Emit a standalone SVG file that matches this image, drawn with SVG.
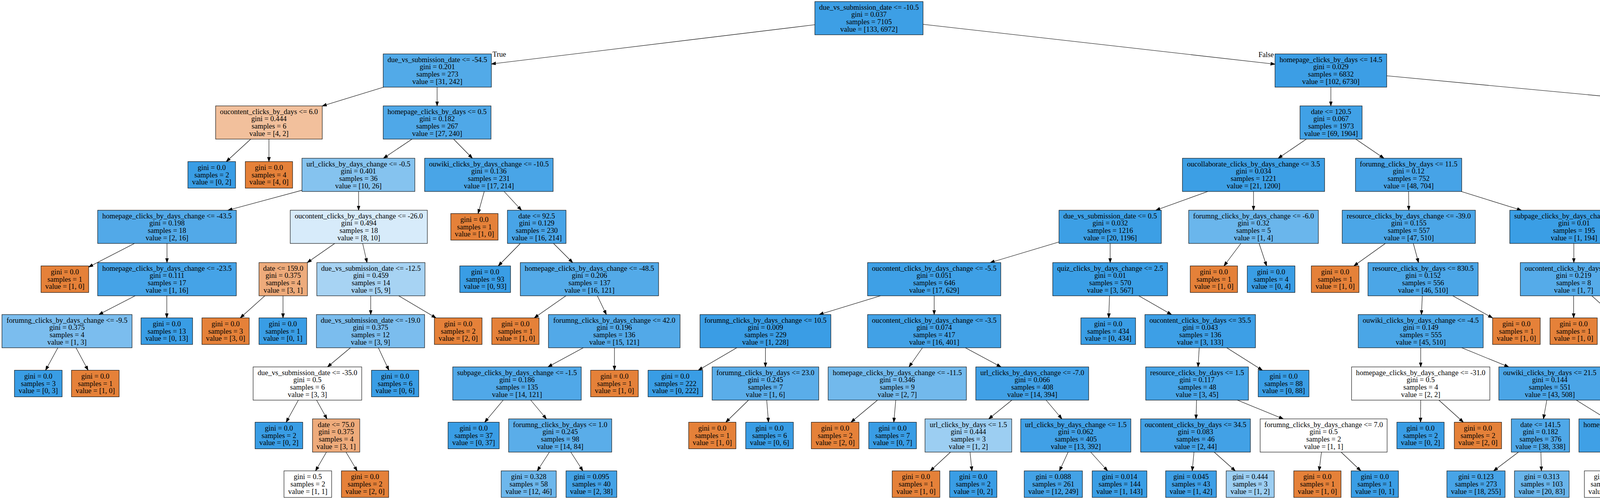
<svg xmlns="http://www.w3.org/2000/svg" width="7420" height="1277" viewBox="0 0 7420 1277">
<style>
.n rect{stroke:#000;stroke-width:1.1}
.b{fill:#399de5}.o{fill:#e58139}.w{fill:#ffffff}
text{font-family:"Liberation Serif","Times New Roman",Times,serif;font-size:18.6px;text-anchor:middle;fill:#000}
#edges line{stroke:#000;stroke-width:1.1;fill:none;marker-end:url(#arr)}
#edges text.l{text-anchor:start}
#edges text.r{text-anchor:end}
</style>
<defs>
<marker id="arr" markerUnits="userSpaceOnUse" markerWidth="14" markerHeight="10" refX="11.3" refY="4" orient="auto"><path d="M0,0 L11.3,4 L0,8 z" fill="#000" stroke="#000" stroke-width="1"/></marker>
</defs>
<rect width="7420" height="1277" fill="#ffffff"/>
<g id="edges">
<line x1="2086" y1="63.3" x2="1258" y2="163.7"/>
<line x1="2363" y1="62.2" x2="3264" y2="164.3"/>
<line x1="982.3" y1="223" x2="825" y2="271.2"/>
<line x1="1119" y1="223" x2="1119" y2="271"/>
<line x1="3407" y1="223" x2="3407" y2="271"/>
<line x1="3550" y1="194" x2="4656" y2="298"/>
<line x1="641.9" y1="356" x2="579.3" y2="413.5"/>
<line x1="688.5" y1="356" x2="688.5" y2="413.5"/>
<line x1="1054.8" y1="356" x2="981.7" y2="405"/>
<line x1="1161.2" y1="356" x2="1209.3" y2="405"/>
<line x1="3344.3" y1="356" x2="3272.2" y2="405"/>
<line x1="3470.7" y1="356" x2="3542.8" y2="405"/>
<line x1="4820.5" y1="356" x2="4820.5" y2="405"/>
<line x1="4985" y1="337.9" x2="5583" y2="427"/>
<line x1="773" y1="486.9" x2="583.5" y2="538"/>
<line x1="918" y1="490" x2="918" y2="538"/>
<line x1="1239.7" y1="490" x2="1223.9" y2="546.5"/>
<line x1="1290.5" y1="490" x2="1335" y2="538"/>
<line x1="3092.1" y1="490" x2="2958.9" y2="538"/>
<line x1="3209" y1="490" x2="3209" y2="538"/>
<line x1="3606" y1="490" x2="3606.5" y2="538"/>
<line x1="3740.8" y1="490" x2="3894.7" y2="538"/>
<line x1="4797.3" y1="490" x2="4766.1" y2="546.5"/>
<line x1="4843.7" y1="490" x2="4874.9" y2="546.5"/>
<line x1="5721" y1="490" x2="5721" y2="538"/>
<line x1="5859" y1="488.9" x2="6050" y2="545.8"/>
<line x1="344.2" y1="623" x2="227" y2="683.4"/>
<line x1="427.5" y1="623" x2="427.5" y2="672"/>
<line x1="856.9" y1="623" x2="786.6" y2="672"/>
<line x1="928.4" y1="623" x2="939.6" y2="672"/>
<line x1="1332" y1="623" x2="1275.6" y2="680.5"/>
<line x1="1417" y1="623" x2="1466" y2="672"/>
<line x1="2711" y1="619.3" x2="2534.9" y2="672"/>
<line x1="2842" y1="623" x2="2842" y2="672"/>
<line x1="3176.7" y1="623" x2="3133.4" y2="680.5"/>
<line x1="3223.3" y1="623" x2="3242.5" y2="680.5"/>
<line x1="3546.5" y1="623" x2="3466" y2="680.5"/>
<line x1="3618.1" y1="623" x2="3631.4" y2="672"/>
<line x1="4029" y1="623" x2="4029" y2="672"/>
<line x1="4102.7" y1="623" x2="4200.9" y2="680.5"/>
<line x1="5665.4" y1="623" x2="5602.6" y2="672"/>
<line x1="5787" y1="623" x2="5863" y2="672"/>
<line x1="6166" y1="623" x2="6166" y2="680.5"/>
<line x1="6212.3" y1="623" x2="6275.1" y2="680.5"/>
<line x1="346" y1="757" x2="253" y2="805"/>
<line x1="427" y1="757" x2="427" y2="813.5"/>
<line x1="678" y1="757" x2="615.1" y2="813.5"/>
<line x1="724.5" y1="757" x2="724.5" y2="813.5"/>
<line x1="949" y1="757" x2="949" y2="805"/>
<line x1="1020.7" y1="757" x2="1116.1" y2="813.5"/>
<line x1="1448.7" y1="757" x2="1367.8" y2="813.5"/>
<line x1="1529.2" y1="757" x2="1552.3" y2="805"/>
<line x1="2254" y1="757" x2="2097" y2="805"/>
<line x1="2391.5" y1="757" x2="2391.5" y2="805"/>
<line x1="2840.4" y1="757" x2="2838.3" y2="813.5"/>
<line x1="2915.4" y1="757" x2="2999.1" y2="805"/>
<line x1="3641.1" y1="757" x2="3638.9" y2="805"/>
<line x1="3719.1" y1="757" x2="3820.9" y2="813.5"/>
<line x1="4028.5" y1="757" x2="4028.5" y2="813.5"/>
<line x1="4075.1" y1="757" x2="4137.7" y2="813.5"/>
<line x1="5405" y1="755.4" x2="5217" y2="808.8"/>
<line x1="5547" y1="757" x2="5547" y2="805"/>
<line x1="5950.4" y1="757" x2="5974.1" y2="805"/>
<line x1="6081" y1="754.5" x2="6274.4" y2="805"/>
<line x1="148.1" y1="890" x2="116.7" y2="947.5"/>
<line x1="194.6" y1="890" x2="225.5" y2="947.5"/>
<line x1="897.1" y1="890" x2="838.4" y2="939"/>
<line x1="968.6" y1="890" x2="995.5" y2="947.5"/>
<line x1="1493.2" y1="890" x2="1402.8" y2="939"/>
<line x1="1573" y1="890" x2="1573" y2="947.5"/>
<line x1="1886.1" y1="890" x2="1787.7" y2="947.5"/>
<line x1="1959.5" y1="890" x2="1959.5" y2="939"/>
<line x1="2361.4" y1="890" x2="2327.1" y2="939"/>
<line x1="2471.4" y1="890" x2="2562.6" y2="939"/>
<line x1="3070" y1="890" x2="3067" y2="939"/>
<line x1="3140.5" y1="890" x2="3231.6" y2="947.5"/>
<line x1="3637" y1="890" x2="3637" y2="939"/>
<line x1="3742.2" y1="890" x2="3862.3" y2="939"/>
<line x1="4975.8" y1="890" x2="4854.7" y2="939"/>
<line x1="5082" y1="890" x2="5082" y2="939"/>
<line x1="5500.5" y1="890" x2="5447.5" y2="939"/>
<line x1="5605.4" y1="890" x2="5672.1" y2="939"/>
<line x1="5995" y1="890" x2="5995.5" y2="947.5"/>
<line x1="6043.2" y1="890" x2="6107.9" y2="947.5"/>
<line x1="6435.5" y1="890" x2="6435.5" y2="939"/>
<line x1="6575" y1="890" x2="6734" y2="939"/>
<line x1="763.8" y1="1024" x2="732.6" y2="1080.5"/>
<line x1="810.4" y1="1024" x2="837.1" y2="1072"/>
<line x1="1288.2" y1="1024" x2="1240.8" y2="1080.5"/>
<line x1="1358.7" y1="1024" x2="1398.8" y2="1072"/>
<line x1="1916.2" y1="1024" x2="1858.1" y2="1080.5"/>
<line x1="1962.8" y1="1024" x2="1967.3" y2="1080.5"/>
<line x1="2246.4" y1="1024" x2="2178.5" y2="1080.5"/>
<line x1="2293.2" y1="1024" x2="2288.1" y2="1080.5"/>
<line x1="2590.4" y1="1024" x2="2531.1" y2="1072"/>
<line x1="2678" y1="1024" x2="2718.5" y2="1072"/>
<line x1="3063.2" y1="1024" x2="3061.8" y2="1072"/>
<line x1="3167.7" y1="1024" x2="3285.3" y2="1072"/>
<line x1="3637" y1="1024" x2="3636.5" y2="1080.5"/>
<line x1="3683.6" y1="1024" x2="3746.2" y2="1080.5"/>
<line x1="3959.9" y1="1024" x2="3951.1" y2="1072"/>
<line x1="4035.3" y1="1024" x2="4112.7" y2="1072"/>
<line x1="4664.1" y1="1024" x2="4567.9" y2="1072"/>
<line x1="4758.7" y1="1024" x2="4770.3" y2="1072"/>
<line x1="5055.4" y1="1024" x2="5019.8" y2="1080.5"/>
<line x1="5102.1" y1="1024" x2="5129" y2="1080.5"/>
<line x1="5366" y1="1024" x2="5319" y2="1080.5"/>
<line x1="5412.8" y1="1024" x2="5428.6" y2="1080.5"/>
<line x1="5720.2" y1="1024" x2="5708.3" y2="1072"/>
<line x1="5828.4" y1="1024" x2="5940.1" y2="1072"/>
<line x1="6382.3" y1="1024" x2="6311" y2="1080.5"/>
<line x1="6463.7" y1="1024" x2="6495.8" y2="1072"/>
<line x1="6873.5" y1="1024" x2="6873.5" y2="1072"/>
<line x1="6989.6" y1="1024" x2="7121.9" y2="1072"/>
<line x1="835.7" y1="1157" x2="807.8" y2="1205"/>
<line x1="885.8" y1="1157" x2="914.3" y2="1205"/>
<line x1="1406.5" y1="1157" x2="1375.5" y2="1205"/>
<line x1="1461.3" y1="1157" x2="1492.2" y2="1205"/>
<line x1="2433.3" y1="1157" x2="2381.6" y2="1205"/>
<line x1="2483.3" y1="1157" x2="2488.1" y2="1205"/>
<line x1="2734.4" y1="1157" x2="2712.2" y2="1205"/>
<line x1="2792.2" y1="1157" x2="2835.4" y2="1205"/>
<line x1="3056.6" y1="1157" x2="3052.1" y2="1205"/>
<line x1="3108.3" y1="1157" x2="3162.3" y2="1205"/>
<line x1="3383" y1="1157" x2="3376.9" y2="1205"/>
<line x1="3433.2" y1="1157" x2="3483.7" y2="1205"/>
<line x1="3887.2" y1="1157" x2="3823.6" y2="1205"/>
<line x1="3944.7" y1="1157" x2="3946" y2="1205"/>
<line x1="4158.7" y1="1157" x2="4134" y2="1205"/>
<line x1="4211.9" y1="1157" x2="4247.4" y2="1205"/>
<line x1="4475.3" y1="1157" x2="4466.1" y2="1205"/>
<line x1="4526.7" y1="1157" x2="4575.5" y2="1205"/>
<line x1="4779.3" y1="1157" x2="4778" y2="1205"/>
<line x1="4837" y1="1157" x2="4900.8" y2="1205"/>
<line x1="5650.5" y1="1157" x2="5597" y2="1205"/>
<line x1="5701.9" y1="1157" x2="5706.4" y2="1205"/>
<line x1="6009.8" y1="1157" x2="5978" y2="1205"/>
<line x1="6066.2" y1="1157" x2="6098" y2="1205"/>
<line x1="6482" y1="1157" x2="6434.6" y2="1205"/>
<line x1="6532" y1="1157" x2="6541.1" y2="1205"/>
<line x1="6849.1" y1="1157" x2="6821.5" y2="1205"/>
<line x1="6906.8" y1="1157" x2="6944.4" y2="1205"/>
<line x1="7209.2" y1="1157" x2="7176.6" y2="1205"/>
<line x1="7262.1" y1="1157" x2="7289.2" y2="1205"/>
<text class="l" x="1261" y="145">True</text>
<text class="r" x="3261" y="146">False</text>
</g>
<g id="n0" class="n"><rect x="2086" y="4" width="277" height="85" fill="#3d9fe5"/><text x="2224.5" y="24.5">due_vs_submission_date &lt;= -10.5<tspan x="2224.5" dy="18.8">gini = 0.037</tspan><tspan x="2224.5" dy="18.8">samples = 7105</tspan><tspan x="2224.5" dy="18.8">value = [133, 6972]</tspan></text></g>
<g id="n1" class="n"><rect x="981" y="138" width="277" height="85" fill="#52aae8"/><text x="1119.5" y="158.5">due_vs_submission_date &lt;= -54.5<tspan x="1119.5" dy="18.8">gini = 0.201</tspan><tspan x="1119.5" dy="18.8">samples = 273</tspan><tspan x="1119.5" dy="18.8">value = [31, 242]</tspan></text></g>
<g id="n2" class="n"><rect x="3264" y="138" width="286" height="85" fill="#3c9ee5"/><text x="3407" y="158.5">homepage_clicks_by_days &lt;= 14.5<tspan x="3407" dy="18.8">gini = 0.029</tspan><tspan x="3407" dy="18.8">samples = 6832</tspan><tspan x="3407" dy="18.8">value = [102, 6730]</tspan></text></g>
<g id="n3" class="n"><rect x="552" y="271" width="273" height="85" fill="#f2c09c"/><text x="688.5" y="291.5">oucontent_clicks_by_days &lt;= 6.0<tspan x="688.5" dy="18.8">gini = 0.444</tspan><tspan x="688.5" dy="18.8">samples = 6</tspan><tspan x="688.5" dy="18.8">value = [4, 2]</tspan></text></g>
<g id="n4" class="n"><rect x="981" y="271" width="276" height="85" fill="#4fa8e8"/><text x="1119" y="291.5">homepage_clicks_by_days &lt;= 0.5<tspan x="1119" dy="18.8">gini = 0.182</tspan><tspan x="1119" dy="18.8">samples = 267</tspan><tspan x="1119" dy="18.8">value = [27, 240]</tspan></text></g>
<g id="n5" class="n"><rect x="3328" y="271" width="159" height="85" fill="#40a1e6"/><text x="3407.5" y="291.5">date &lt;= 120.5<tspan x="3407.5" dy="18.8">gini = 0.067</tspan><tspan x="3407.5" dy="18.8">samples = 1973</tspan><tspan x="3407.5" dy="18.8">value = [69, 1904]</tspan></text></g>
<g id="n6" class="n"><rect x="4656" y="271" width="329" height="85" fill="#3a9ee5"/><text x="4820.5" y="291.5">ouwiki_clicks_by_days_change &lt;= -13.5<tspan x="4820.5" dy="18.8">gini = 0.013</tspan><tspan x="4820.5" dy="18.8">samples = 4859</tspan><tspan x="4820.5" dy="18.8">value = [33, 4826]</tspan></text></g>
<g id="n7" class="n"><rect x="481" y="413.5" width="122" height="68" class="b"/><text x="542" y="434.7">gini = 0.0<tspan x="542" dy="18.8">samples = 2</tspan><tspan x="542" dy="18.8">value = [0, 2]</tspan></text></g>
<g id="n8" class="n"><rect x="628" y="413.5" width="121" height="68" class="o"/><text x="688.5" y="434.7">gini = 0.0<tspan x="688.5" dy="18.8">samples = 4</tspan><tspan x="688.5" dy="18.8">value = [4, 0]</tspan></text></g>
<g id="n9" class="n"><rect x="773" y="405" width="289" height="85" fill="#85c3ef"/><text x="917.5" y="425.5">url_clicks_by_days_change &lt;= -0.5<tspan x="917.5" dy="18.8">gini = 0.401</tspan><tspan x="917.5" dy="18.8">samples = 36</tspan><tspan x="917.5" dy="18.8">value = [10, 26]</tspan></text></g>
<g id="n10" class="n"><rect x="1087" y="405" width="329" height="85" fill="#49a5e7"/><text x="1251.5" y="425.5">ouwiki_clicks_by_days_change &lt;= -10.5<tspan x="1251.5" dy="18.8">gini = 0.136</tspan><tspan x="1251.5" dy="18.8">samples = 231</tspan><tspan x="1251.5" dy="18.8">value = [17, 214]</tspan></text></g>
<g id="n11" class="n"><rect x="3027" y="405" width="364" height="85" fill="#3c9fe5"/><text x="3209" y="425.5">oucollaborate_clicks_by_days_change &lt;= 3.5<tspan x="3209" dy="18.8">gini = 0.034</tspan><tspan x="3209" dy="18.8">samples = 1221</tspan><tspan x="3209" dy="18.8">value = [21, 1200]</tspan></text></g>
<g id="n12" class="n"><rect x="3470" y="405" width="272" height="85" fill="#46a3e7"/><text x="3606" y="425.5">forumng_clicks_by_days &lt;= 11.5<tspan x="3606" dy="18.8">gini = 0.12</tspan><tspan x="3606" dy="18.8">samples = 752</tspan><tspan x="3606" dy="18.8">value = [48, 704]</tspan></text></g>
<g id="n13" class="n"><rect x="4655" y="405" width="331" height="85" class="w"/><text x="4820.5" y="425.5">resource_clicks_by_days_change &lt;= -1.5<tspan x="4820.5" dy="18.8">gini = 0.5</tspan><tspan x="4820.5" dy="18.8">samples = 2</tspan><tspan x="4820.5" dy="18.8">value = [1, 1]</tspan></text></g>
<g id="n14" class="n"><rect x="5583" y="405" width="276" height="85" fill="#3a9ee5"/><text x="5721" y="425.5">dualpane_clicks_by_days &lt;= 17.5<tspan x="5721" dy="18.8">gini = 0.013</tspan><tspan x="5721" dy="18.8">samples = 4857</tspan><tspan x="5721" dy="18.8">value = [32, 4825]</tspan></text></g>
<g id="n15" class="n"><rect x="250" y="538" width="355" height="85" fill="#52a9e8"/><text x="427.5" y="558.5">homepage_clicks_by_days_change &lt;= -43.5<tspan x="427.5" dy="18.8">gini = 0.198</tspan><tspan x="427.5" dy="18.8">samples = 18</tspan><tspan x="427.5" dy="18.8">value = [2, 16]</tspan></text></g>
<g id="n16" class="n"><rect x="743" y="538" width="351" height="85" fill="#d7ebfa"/><text x="918.5" y="558.5">oucontent_clicks_by_days_change &lt;= -26.0<tspan x="918.5" dy="18.8">gini = 0.494</tspan><tspan x="918.5" dy="18.8">samples = 18</tspan><tspan x="918.5" dy="18.8">value = [8, 10]</tspan></text></g>
<g id="n17" class="n"><rect x="1154" y="546.5" width="121" height="68" class="o"/><text x="1214.5" y="567.7">gini = 0.0<tspan x="1214.5" dy="18.8">samples = 1</tspan><tspan x="1214.5" dy="18.8">value = [1, 0]</tspan></text></g>
<g id="n18" class="n"><rect x="1299" y="538" width="150" height="85" fill="#48a4e7"/><text x="1374" y="558.5">date &lt;= 92.5<tspan x="1374" dy="18.8">gini = 0.129</tspan><tspan x="1374" dy="18.8">samples = 230</tspan><tspan x="1374" dy="18.8">value = [16, 214]</tspan></text></g>
<g id="n19" class="n"><rect x="2711" y="538" width="262" height="85" fill="#3c9fe5"/><text x="2842" y="558.5">due_vs_submission_date &lt;= 0.5<tspan x="2842" dy="18.8">gini = 0.032</tspan><tspan x="2842" dy="18.8">samples = 1216</tspan><tspan x="2842" dy="18.8">value = [20, 1196]</tspan></text></g>
<g id="n20" class="n"><rect x="3043" y="538" width="332" height="85" fill="#6ab6ec"/><text x="3209" y="558.5">forumng_clicks_by_days_change &lt;= -6.0<tspan x="3209" dy="18.8">gini = 0.32</tspan><tspan x="3209" dy="18.8">samples = 5</tspan><tspan x="3209" dy="18.8">value = [1, 4]</tspan></text></g>
<g id="n21" class="n"><rect x="3436" y="538" width="341" height="85" fill="#4ba6e7"/><text x="3606.5" y="558.5">resource_clicks_by_days_change &lt;= -39.0<tspan x="3606.5" dy="18.8">gini = 0.155</tspan><tspan x="3606.5" dy="18.8">samples = 557</tspan><tspan x="3606.5" dy="18.8">value = [47, 510]</tspan></text></g>
<g id="n22" class="n"><rect x="3865" y="538" width="329" height="85" fill="#3a9ee5"/><text x="4029.5" y="558.5">subpage_clicks_by_days_change &lt;= -7.5<tspan x="4029.5" dy="18.8">gini = 0.01</tspan><tspan x="4029.5" dy="18.8">samples = 195</tspan><tspan x="4029.5" dy="18.8">value = [1, 194]</tspan></text></g>
<g id="n23" class="n"><rect x="4687" y="546.5" width="121" height="68" class="o"/><text x="4747.5" y="567.7">gini = 0.0<tspan x="4747.5" dy="18.8">samples = 1</tspan><tspan x="4747.5" dy="18.8">value = [1, 0]</tspan></text></g>
<g id="n24" class="n"><rect x="4833" y="546.5" width="121" height="68" class="b"/><text x="4893.5" y="567.7">gini = 0.0<tspan x="4893.5" dy="18.8">samples = 1</tspan><tspan x="4893.5" dy="18.8">value = [0, 1]</tspan></text></g>
<g id="n25" class="n"><rect x="5590" y="538" width="261" height="85" fill="#3a9ee5"/><text x="5720.5" y="558.5">due_vs_submission_date &lt;= 0.5<tspan x="5720.5" dy="18.8">gini = 0.012</tspan><tspan x="5720.5" dy="18.8">samples = 4849</tspan><tspan x="5720.5" dy="18.8">value = [30, 4819]</tspan></text></g>
<g id="n26" class="n"><rect x="6050" y="538" width="231" height="85" fill="#7bbdee"/><text x="6165.5" y="558.5">quiz_clicks_by_days &lt;= 5.5<tspan x="6165.5" dy="18.8">gini = 0.375</tspan><tspan x="6165.5" dy="18.8">samples = 8</tspan><tspan x="6165.5" dy="18.8">value = [2, 6]</tspan></text></g>
<g id="n27" class="n"><rect x="105" y="680.5" width="122" height="68" class="o"/><text x="166" y="701.7">gini = 0.0<tspan x="166" dy="18.8">samples = 1</tspan><tspan x="166" dy="18.8">value = [1, 0]</tspan></text></g>
<g id="n28" class="n"><rect x="250" y="672" width="355" height="85" fill="#45a3e7"/><text x="427.5" y="692.5">homepage_clicks_by_days_change &lt;= -23.5<tspan x="427.5" dy="18.8">gini = 0.111</tspan><tspan x="427.5" dy="18.8">samples = 17</tspan><tspan x="427.5" dy="18.8">value = [1, 16]</tspan></text></g>
<g id="n29" class="n"><rect x="663" y="672" width="124" height="85" fill="#eeab7b"/><text x="725" y="692.5">date &lt;= 159.0<tspan x="725" dy="18.8">gini = 0.375</tspan><tspan x="725" dy="18.8">samples = 4</tspan><tspan x="725" dy="18.8">value = [3, 1]</tspan></text></g>
<g id="n30" class="n"><rect x="811" y="672" width="277" height="85" fill="#a7d3f3"/><text x="949.5" y="692.5">due_vs_submission_date &lt;= -12.5<tspan x="949.5" dy="18.8">gini = 0.459</tspan><tspan x="949.5" dy="18.8">samples = 14</tspan><tspan x="949.5" dy="18.8">value = [5, 9]</tspan></text></g>
<g id="n31" class="n"><rect x="1177" y="680.5" width="130" height="68" class="b"/><text x="1242" y="701.7">gini = 0.0<tspan x="1242" dy="18.8">samples = 93</tspan><tspan x="1242" dy="18.8">value = [0, 93]</tspan></text></g>
<g id="n32" class="n"><rect x="1332" y="672" width="354" height="85" fill="#53aae8"/><text x="1509" y="692.5">homepage_clicks_by_days_change &lt;= -48.5<tspan x="1509" dy="18.8">gini = 0.206</tspan><tspan x="1509" dy="18.8">samples = 137</tspan><tspan x="1509" dy="18.8">value = [16, 121]</tspan></text></g>
<g id="n33" class="n"><rect x="2221" y="672" width="341" height="85" fill="#3ea0e6"/><text x="2391.5" y="692.5">oucontent_clicks_by_days_change &lt;= -5.5<tspan x="2391.5" dy="18.8">gini = 0.051</tspan><tspan x="2391.5" dy="18.8">samples = 646</tspan><tspan x="2391.5" dy="18.8">value = [17, 629]</tspan></text></g>
<g id="n34" class="n"><rect x="2695" y="672" width="294" height="85" fill="#3a9ee5"/><text x="2842" y="692.5">quiz_clicks_by_days_change &lt;= 2.5<tspan x="2842" dy="18.8">gini = 0.01</tspan><tspan x="2842" dy="18.8">samples = 570</tspan><tspan x="2842" dy="18.8">value = [3, 567]</tspan></text></g>
<g id="n35" class="n"><rect x="3047" y="680.5" width="121" height="68" class="o"/><text x="3107.5" y="701.7">gini = 0.0<tspan x="3107.5" dy="18.8">samples = 1</tspan><tspan x="3107.5" dy="18.8">value = [1, 0]</tspan></text></g>
<g id="n36" class="n"><rect x="3193" y="680.5" width="122" height="68" class="b"/><text x="3254" y="701.7">gini = 0.0<tspan x="3254" dy="18.8">samples = 4</tspan><tspan x="3254" dy="18.8">value = [0, 4]</tspan></text></g>
<g id="n37" class="n"><rect x="3357" y="680.5" width="122" height="68" class="o"/><text x="3418" y="701.7">gini = 0.0<tspan x="3418" dy="18.8">samples = 1</tspan><tspan x="3418" dy="18.8">value = [1, 0]</tspan></text></g>
<g id="n38" class="n"><rect x="3502" y="672" width="282" height="85" fill="#4ba6e7"/><text x="3643" y="692.5">resource_clicks_by_days &lt;= 830.5<tspan x="3643" dy="18.8">gini = 0.152</tspan><tspan x="3643" dy="18.8">samples = 556</tspan><tspan x="3643" dy="18.8">value = [46, 510]</tspan></text></g>
<g id="n39" class="n"><rect x="3892" y="672" width="273" height="85" fill="#55abe9"/><text x="4028.5" y="692.5">oucontent_clicks_by_days &lt;= 4.5<tspan x="4028.5" dy="18.8">gini = 0.219</tspan><tspan x="4028.5" dy="18.8">samples = 8</tspan><tspan x="4028.5" dy="18.8">value = [1, 7]</tspan></text></g>
<g id="n40" class="n"><rect x="4189" y="680.5" width="141" height="68" class="b"/><text x="4259.5" y="701.7">gini = 0.0<tspan x="4259.5" dy="18.8">samples = 187</tspan><tspan x="4259.5" dy="18.8">value = [0, 187]</tspan></text></g>
<g id="n41" class="n"><rect x="5405" y="672" width="285" height="85" fill="#3c9ee5"/><text x="5547.5" y="692.5">homepage_clicks_by_days &lt;= 21.5<tspan x="5547.5" dy="18.8">gini = 0.025</tspan><tspan x="5547.5" dy="18.8">samples = 1874</tspan><tspan x="5547.5" dy="18.8">value = [24, 1850]</tspan></text></g>
<g id="n42" class="n"><rect x="5778" y="672" width="303" height="85" fill="#399de5"/><text x="5929.5" y="692.5">page_clicks_by_days_change &lt;= -0.5<tspan x="5929.5" dy="18.8">gini = 0.004</tspan><tspan x="5929.5" dy="18.8">samples = 2975</tspan><tspan x="5929.5" dy="18.8">value = [6, 2969]</tspan></text></g>
<g id="n43" class="n"><rect x="6105" y="680.5" width="122" height="68" class="o"/><text x="6166" y="701.7">gini = 0.0<tspan x="6166" dy="18.8">samples = 2</tspan><tspan x="6166" dy="18.8">value = [2, 0]</tspan></text></g>
<g id="n44" class="n"><rect x="6252" y="680.5" width="121" height="68" class="b"/><text x="6312.5" y="701.7">gini = 0.0<tspan x="6312.5" dy="18.8">samples = 6</tspan><tspan x="6312.5" dy="18.8">value = [0, 6]</tspan></text></g>
<g id="n45" class="n"><rect x="5" y="805" width="333" height="85" fill="#7bbdee"/><text x="171.5" y="825.5">forumng_clicks_by_days_change &lt;= -9.5<tspan x="171.5" dy="18.8">gini = 0.375</tspan><tspan x="171.5" dy="18.8">samples = 4</tspan><tspan x="171.5" dy="18.8">value = [1, 3]</tspan></text></g>
<g id="n46" class="n"><rect x="361" y="813.5" width="132" height="68" class="b"/><text x="427" y="834.7">gini = 0.0<tspan x="427" dy="18.8">samples = 13</tspan><tspan x="427" dy="18.8">value = [0, 13]</tspan></text></g>
<g id="n47" class="n"><rect x="517" y="813.5" width="121" height="68" class="o"/><text x="577.5" y="834.7">gini = 0.0<tspan x="577.5" dy="18.8">samples = 3</tspan><tspan x="577.5" dy="18.8">value = [3, 0]</tspan></text></g>
<g id="n48" class="n"><rect x="663" y="813.5" width="122" height="68" class="b"/><text x="724" y="834.7">gini = 0.0<tspan x="724" dy="18.8">samples = 1</tspan><tspan x="724" dy="18.8">value = [0, 1]</tspan></text></g>
<g id="n49" class="n"><rect x="810" y="805" width="277" height="85" fill="#7bbdee"/><text x="948.5" y="825.5">due_vs_submission_date &lt;= -19.0<tspan x="948.5" dy="18.8">gini = 0.375</tspan><tspan x="948.5" dy="18.8">samples = 12</tspan><tspan x="948.5" dy="18.8">value = [3, 9]</tspan></text></g>
<g id="n50" class="n"><rect x="1112" y="813.5" width="122" height="68" class="o"/><text x="1173" y="834.7">gini = 0.0<tspan x="1173" dy="18.8">samples = 2</tspan><tspan x="1173" dy="18.8">value = [2, 0]</tspan></text></g>
<g id="n51" class="n"><rect x="1259" y="813.5" width="121" height="68" class="o"/><text x="1319.5" y="834.7">gini = 0.0<tspan x="1319.5" dy="18.8">samples = 1</tspan><tspan x="1319.5" dy="18.8">value = [1, 0]</tspan></text></g>
<g id="n52" class="n"><rect x="1404" y="805" width="337" height="85" fill="#52a9e8"/><text x="1572.5" y="825.5">forumng_clicks_by_days_change &lt;= 42.0<tspan x="1572.5" dy="18.8">gini = 0.196</tspan><tspan x="1572.5" dy="18.8">samples = 136</tspan><tspan x="1572.5" dy="18.8">value = [15, 121]</tspan></text></g>
<g id="n53" class="n"><rect x="1792" y="805" width="335" height="85" fill="#3a9de5"/><text x="1959.5" y="825.5">forumng_clicks_by_days_change &lt;= 10.5<tspan x="1959.5" dy="18.8">gini = 0.009</tspan><tspan x="1959.5" dy="18.8">samples = 229</tspan><tspan x="1959.5" dy="18.8">value = [1, 228]</tspan></text></g>
<g id="n54" class="n"><rect x="2221" y="805" width="341" height="85" fill="#41a1e6"/><text x="2391.5" y="825.5">oucontent_clicks_by_days_change &lt;= -3.5<tspan x="2391.5" dy="18.8">gini = 0.074</tspan><tspan x="2391.5" dy="18.8">samples = 417</tspan><tspan x="2391.5" dy="18.8">value = [16, 401]</tspan></text></g>
<g id="n55" class="n"><rect x="2767" y="813.5" width="140" height="68" class="b"/><text x="2837" y="834.7">gini = 0.0<tspan x="2837" dy="18.8">samples = 434</tspan><tspan x="2837" dy="18.8">value = [0, 434]</tspan></text></g>
<g id="n56" class="n"><rect x="2931" y="805" width="283" height="85" fill="#3d9fe6"/><text x="3072.5" y="825.5">oucontent_clicks_by_days &lt;= 35.5<tspan x="3072.5" dy="18.8">gini = 0.043</tspan><tspan x="3072.5" dy="18.8">samples = 136</tspan><tspan x="3072.5" dy="18.8">value = [3, 133]</tspan></text></g>
<g id="n57" class="n"><rect x="3477" y="805" width="320" height="85" fill="#4aa6e7"/><text x="3637" y="825.5">ouwiki_clicks_by_days_change &lt;= -4.5<tspan x="3637" dy="18.8">gini = 0.149</tspan><tspan x="3637" dy="18.8">samples = 555</tspan><tspan x="3637" dy="18.8">value = [45, 510]</tspan></text></g>
<g id="n58" class="n"><rect x="3821" y="813.5" width="122" height="68" class="o"/><text x="3882" y="834.7">gini = 0.0<tspan x="3882" dy="18.8">samples = 1</tspan><tspan x="3882" dy="18.8">value = [1, 0]</tspan></text></g>
<g id="n59" class="n"><rect x="3968" y="813.5" width="121" height="68" class="o"/><text x="4028.5" y="834.7">gini = 0.0<tspan x="4028.5" dy="18.8">samples = 1</tspan><tspan x="4028.5" dy="18.8">value = [1, 0]</tspan></text></g>
<g id="n60" class="n"><rect x="4114" y="813.5" width="122" height="68" class="b"/><text x="4175" y="834.7">gini = 0.0<tspan x="4175" dy="18.8">samples = 7</tspan><tspan x="4175" dy="18.8">value = [0, 7]</tspan></text></g>
<g id="n61" class="n"><rect x="4947" y="805" width="270" height="85" fill="#3fa0e6"/><text x="5082" y="825.5">subpage_clicks_by_days &lt;= 21.5<tspan x="5082" dy="18.8">gini = 0.059</tspan><tspan x="5082" dy="18.8">samples = 530</tspan><tspan x="5082" dy="18.8">value = [16, 514]</tspan></text></g>
<g id="n62" class="n"><rect x="5367" y="805" width="360" height="85" fill="#3a9ee5"/><text x="5547" y="825.5">oucontent_clicks_by_days_change &lt;= -194.0<tspan x="5547" dy="18.8">gini = 0.012</tspan><tspan x="5547" dy="18.8">samples = 1344</tspan><tspan x="5547" dy="18.8">value = [8, 1336]</tspan></text></g>
<g id="n63" class="n"><rect x="5880" y="805" width="230" height="85" fill="#41a1e6"/><text x="5995" y="825.5">quiz_clicks_by_days &lt;= 3.0<tspan x="5995" dy="18.8">gini = 0.071</tspan><tspan x="5995" dy="18.8">samples = 27</tspan><tspan x="5995" dy="18.8">value = [1, 26]</tspan></text></g>
<g id="n64" class="n"><rect x="6255" y="805" width="361" height="85" fill="#399de5"/><text x="6435.5" y="825.5">oucontent_clicks_by_days_change &lt;= -127.5<tspan x="6435.5" dy="18.8">gini = 0.003</tspan><tspan x="6435.5" dy="18.8">samples = 2948</tspan><tspan x="6435.5" dy="18.8">value = [5, 2943]</tspan></text></g>
<g id="n65" class="n"><rect x="37" y="947.5" width="122" height="68" class="b"/><text x="98" y="968.7">gini = 0.0<tspan x="98" dy="18.8">samples = 3</tspan><tspan x="98" dy="18.8">value = [0, 3]</tspan></text></g>
<g id="n66" class="n"><rect x="183" y="947.5" width="122" height="68" class="o"/><text x="244" y="968.7">gini = 0.0<tspan x="244" dy="18.8">samples = 1</tspan><tspan x="244" dy="18.8">value = [1, 0]</tspan></text></g>
<g id="n67" class="n"><rect x="648" y="939" width="278" height="85" class="w"/><text x="787" y="959.5">due_vs_submission_date &lt;= -35.0<tspan x="787" dy="18.8">gini = 0.5</tspan><tspan x="787" dy="18.8">samples = 6</tspan><tspan x="787" dy="18.8">value = [3, 3]</tspan></text></g>
<g id="n68" class="n"><rect x="951" y="947.5" width="121" height="68" class="b"/><text x="1011.5" y="968.7">gini = 0.0<tspan x="1011.5" dy="18.8">samples = 6</tspan><tspan x="1011.5" dy="18.8">value = [0, 6]</tspan></text></g>
<g id="n69" class="n"><rect x="1159" y="939" width="329" height="85" fill="#50a8e8"/><text x="1323.5" y="959.5">subpage_clicks_by_days_change &lt;= -1.5<tspan x="1323.5" dy="18.8">gini = 0.186</tspan><tspan x="1323.5" dy="18.8">samples = 135</tspan><tspan x="1323.5" dy="18.8">value = [14, 121]</tspan></text></g>
<g id="n70" class="n"><rect x="1512" y="947.5" width="122" height="68" class="o"/><text x="1573" y="968.7">gini = 0.0<tspan x="1573" dy="18.8">samples = 1</tspan><tspan x="1573" dy="18.8">value = [1, 0]</tspan></text></g>
<g id="n71" class="n"><rect x="1659" y="947.5" width="140" height="68" class="b"/><text x="1729" y="968.7">gini = 0.0<tspan x="1729" dy="18.8">samples = 222</tspan><tspan x="1729" dy="18.8">value = [0, 222]</tspan></text></g>
<g id="n72" class="n"><rect x="1823" y="939" width="273" height="85" fill="#5aade9"/><text x="1959.5" y="959.5">forumng_clicks_by_days &lt;= 23.0<tspan x="1959.5" dy="18.8">gini = 0.245</tspan><tspan x="1959.5" dy="18.8">samples = 7</tspan><tspan x="1959.5" dy="18.8">value = [1, 6]</tspan></text></g>
<g id="n73" class="n"><rect x="2120" y="939" width="354" height="85" fill="#72b9ec"/><text x="2297" y="959.5">homepage_clicks_by_days_change &lt;= -11.5<tspan x="2297" dy="18.8">gini = 0.346</tspan><tspan x="2297" dy="18.8">samples = 9</tspan><tspan x="2297" dy="18.8">value = [2, 7]</tspan></text></g>
<g id="n74" class="n"><rect x="2498" y="939" width="289" height="85" fill="#40a0e6"/><text x="2642.5" y="959.5">url_clicks_by_days_change &lt;= -7.0<tspan x="2642.5" dy="18.8">gini = 0.066</tspan><tspan x="2642.5" dy="18.8">samples = 408</tspan><tspan x="2642.5" dy="18.8">value = [14, 394]</tspan></text></g>
<g id="n75" class="n"><rect x="2933" y="939" width="263" height="85" fill="#46a4e7"/><text x="3064.5" y="959.5">resource_clicks_by_days &lt;= 1.5<tspan x="3064.5" dy="18.8">gini = 0.117</tspan><tspan x="3064.5" dy="18.8">samples = 48</tspan><tspan x="3064.5" dy="18.8">value = [3, 45]</tspan></text></g>
<g id="n76" class="n"><rect x="3221" y="947.5" width="130" height="68" class="b"/><text x="3286" y="968.7">gini = 0.0<tspan x="3286" dy="18.8">samples = 88</tspan><tspan x="3286" dy="18.8">value = [0, 88]</tspan></text></g>
<g id="n77" class="n"><rect x="3460" y="939" width="354" height="85" class="w"/><text x="3637" y="959.5">homepage_clicks_by_days_change &lt;= -31.0<tspan x="3637" dy="18.8">gini = 0.5</tspan><tspan x="3637" dy="18.8">samples = 4</tspan><tspan x="3637" dy="18.8">value = [2, 2]</tspan></text></g>
<g id="n78" class="n"><rect x="3837" y="939" width="261" height="85" fill="#4aa5e7"/><text x="3967.5" y="959.5">ouwiki_clicks_by_days &lt;= 21.5<tspan x="3967.5" dy="18.8">gini = 0.144</tspan><tspan x="3967.5" dy="18.8">samples = 551</tspan><tspan x="3967.5" dy="18.8">value = [43, 508]</tspan></text></g>
<g id="n79" class="n"><rect x="4604" y="939" width="289" height="85" fill="#3fa0e6"/><text x="4748.5" y="959.5">url_clicks_by_days_change &lt;= -9.5<tspan x="4748.5" dy="18.8">gini = 0.055</tspan><tspan x="4748.5" dy="18.8">samples = 528</tspan><tspan x="4748.5" dy="18.8">value = [15, 513]</tspan></text></g>
<g id="n80" class="n"><rect x="4918" y="939" width="328" height="85" class="w"/><text x="5082" y="959.5">dualpane_clicks_by_days_change &lt;= 2.0<tspan x="5082" dy="18.8">gini = 0.5</tspan><tspan x="5082" dy="18.8">samples = 2</tspan><tspan x="5082" dy="18.8">value = [1, 1]</tspan></text></g>
<g id="n81" class="n"><rect x="5270" y="939" width="262" height="85" fill="#7bbdee"/><text x="5401" y="959.5">subpage_clicks_by_days &lt;= 2.5<tspan x="5401" dy="18.8">gini = 0.375</tspan><tspan x="5401" dy="18.8">samples = 4</tspan><tspan x="5401" dy="18.8">value = [1, 3]</tspan></text></g>
<g id="n82" class="n"><rect x="5555" y="939" width="351" height="85" fill="#3a9ee5"/><text x="5730.5" y="959.5">oucontent_clicks_by_days_change &lt;= -83.5<tspan x="5730.5" dy="18.8">gini = 0.01</tspan><tspan x="5730.5" dy="18.8">samples = 1340</tspan><tspan x="5730.5" dy="18.8">value = [7, 1333]</tspan></text></g>
<g id="n83" class="n"><rect x="5930" y="947.5" width="131" height="68" class="b"/><text x="5995.5" y="968.7">gini = 0.0<tspan x="5995.5" dy="18.8">samples = 26</tspan><tspan x="5995.5" dy="18.8">value = [0, 26]</tspan></text></g>
<g id="n84" class="n"><rect x="6086" y="947.5" width="121" height="68" class="o"/><text x="6146.5" y="968.7">gini = 0.0<tspan x="6146.5" dy="18.8">samples = 1</tspan><tspan x="6146.5" dy="18.8">value = [1, 0]</tspan></text></g>
<g id="n85" class="n"><rect x="6255" y="939" width="361" height="85" fill="#3ea0e6"/><text x="6435.5" y="959.5">oucontent_clicks_by_days_change &lt;= -128.5<tspan x="6435.5" dy="18.8">gini = 0.05</tspan><tspan x="6435.5" dy="18.8">samples = 39</tspan><tspan x="6435.5" dy="18.8">value = [1, 38]</tspan></text></g>
<g id="n86" class="n"><rect x="6696" y="939" width="355" height="85" fill="#399de5"/><text x="6873.5" y="959.5">oucontent_clicks_by_days_change &lt;= 150.5<tspan x="6873.5" dy="18.8">gini = 0.003</tspan><tspan x="6873.5" dy="18.8">samples = 2909</tspan><tspan x="6873.5" dy="18.8">value = [4, 2905]</tspan></text></g>
<g id="n87" class="n"><rect x="653" y="1080.5" width="122" height="68" class="b"/><text x="714" y="1101.7">gini = 0.0<tspan x="714" dy="18.8">samples = 2</tspan><tspan x="714" dy="18.8">value = [0, 2]</tspan></text></g>
<g id="n88" class="n"><rect x="800" y="1072" width="121" height="85" fill="#eeab7b"/><text x="860.5" y="1092.5">date &lt;= 75.0<tspan x="860.5" dy="18.8">gini = 0.375</tspan><tspan x="860.5" dy="18.8">samples = 4</tspan><tspan x="860.5" dy="18.8">value = [3, 1]</tspan></text></g>
<g id="n89" class="n"><rect x="1147" y="1080.5" width="131" height="68" class="b"/><text x="1212.5" y="1101.7">gini = 0.0<tspan x="1212.5" dy="18.8">samples = 37</tspan><tspan x="1212.5" dy="18.8">value = [0, 37]</tspan></text></g>
<g id="n90" class="n"><rect x="1302" y="1072" width="264" height="85" fill="#5aade9"/><text x="1434" y="1092.5">forumng_clicks_by_days &lt;= 1.0<tspan x="1434" dy="18.8">gini = 0.245</tspan><tspan x="1434" dy="18.8">samples = 98</tspan><tspan x="1434" dy="18.8">value = [14, 84]</tspan></text></g>
<g id="n91" class="n"><rect x="1763" y="1080.5" width="121" height="68" class="o"/><text x="1823.5" y="1101.7">gini = 0.0<tspan x="1823.5" dy="18.8">samples = 1</tspan><tspan x="1823.5" dy="18.8">value = [1, 0]</tspan></text></g>
<g id="n92" class="n"><rect x="1909" y="1080.5" width="122" height="68" class="b"/><text x="1970" y="1101.7">gini = 0.0<tspan x="1970" dy="18.8">samples = 6</tspan><tspan x="1970" dy="18.8">value = [0, 6]</tspan></text></g>
<g id="n93" class="n"><rect x="2077" y="1080.5" width="122" height="68" class="o"/><text x="2138" y="1101.7">gini = 0.0<tspan x="2138" dy="18.8">samples = 2</tspan><tspan x="2138" dy="18.8">value = [2, 0]</tspan></text></g>
<g id="n94" class="n"><rect x="2224" y="1080.5" width="122" height="68" class="b"/><text x="2285" y="1101.7">gini = 0.0<tspan x="2285" dy="18.8">samples = 7</tspan><tspan x="2285" dy="18.8">value = [0, 7]</tspan></text></g>
<g id="n95" class="n"><rect x="2368" y="1072" width="222" height="85" fill="#9ccef2"/><text x="2479" y="1092.5">url_clicks_by_days &lt;= 1.5<tspan x="2479" dy="18.8">gini = 0.444</tspan><tspan x="2479" dy="18.8">samples = 3</tspan><tspan x="2479" dy="18.8">value = [1, 2]</tspan></text></g>
<g id="n96" class="n"><rect x="2613" y="1072" width="282" height="85" fill="#40a0e6"/><text x="2754" y="1092.5">url_clicks_by_days_change &lt;= 1.5<tspan x="2754" dy="18.8">gini = 0.062</tspan><tspan x="2754" dy="18.8">samples = 405</tspan><tspan x="2754" dy="18.8">value = [13, 392]</tspan></text></g>
<g id="n97" class="n"><rect x="2920" y="1072" width="281" height="85" fill="#42a1e6"/><text x="3060.5" y="1092.5">oucontent_clicks_by_days &lt;= 34.5<tspan x="3060.5" dy="18.8">gini = 0.083</tspan><tspan x="3060.5" dy="18.8">samples = 46</tspan><tspan x="3060.5" dy="18.8">value = [2, 44]</tspan></text></g>
<g id="n98" class="n"><rect x="3226" y="1072" width="325" height="85" class="w"/><text x="3388.5" y="1092.5">forumng_clicks_by_days_change &lt;= 7.0<tspan x="3388.5" dy="18.8">gini = 0.5</tspan><tspan x="3388.5" dy="18.8">samples = 2</tspan><tspan x="3388.5" dy="18.8">value = [1, 1]</tspan></text></g>
<g id="n99" class="n"><rect x="3576" y="1080.5" width="121" height="68" class="b"/><text x="3636.5" y="1101.7">gini = 0.0<tspan x="3636.5" dy="18.8">samples = 2</tspan><tspan x="3636.5" dy="18.8">value = [0, 2]</tspan></text></g>
<g id="n100" class="n"><rect x="3723" y="1080.5" width="121" height="68" class="o"/><text x="3783.5" y="1101.7">gini = 0.0<tspan x="3783.5" dy="18.8">samples = 2</tspan><tspan x="3783.5" dy="18.8">value = [2, 0]</tspan></text></g>
<g id="n101" class="n"><rect x="3869" y="1072" width="149" height="85" fill="#4fa8e8"/><text x="3943.5" y="1092.5">date &lt;= 141.5<tspan x="3943.5" dy="18.8">gini = 0.182</tspan><tspan x="3943.5" dy="18.8">samples = 376</tspan><tspan x="3943.5" dy="18.8">value = [38, 338]</tspan></text></g>
<g id="n102" class="n"><rect x="4042" y="1072" width="277" height="85" fill="#3fa0e6"/><text x="4180.5" y="1092.5">homepage_clicks_by_days &lt;= 0.5<tspan x="4180.5" dy="18.8">gini = 0.056</tspan><tspan x="4180.5" dy="18.8">samples = 175</tspan><tspan x="4180.5" dy="18.8">value = [5, 170]</tspan></text></g>
<g id="n103" class="n"><rect x="4342" y="1072" width="283" height="85" fill="#4fa8e8"/><text x="4483.5" y="1092.5">oucontent_clicks_by_days &lt;= 72.0<tspan x="4483.5" dy="18.8">gini = 0.18</tspan><tspan x="4483.5" dy="18.8">samples = 40</tspan><tspan x="4483.5" dy="18.8">value = [4, 36]</tspan></text></g>
<g id="n104" class="n"><rect x="4649" y="1072" width="263" height="85" fill="#3e9fe6"/><text x="4780.5" y="1092.5">forumng_clicks_by_days &lt;= 7.5<tspan x="4780.5" dy="18.8">gini = 0.044</tspan><tspan x="4780.5" dy="18.8">samples = 488</tspan><tspan x="4780.5" dy="18.8">value = [11, 477]</tspan></text></g>
<g id="n105" class="n"><rect x="4938" y="1080.5" width="121" height="68" class="o"/><text x="4998.5" y="1101.7">gini = 0.0<tspan x="4998.5" dy="18.8">samples = 1</tspan><tspan x="4998.5" dy="18.8">value = [1, 0]</tspan></text></g>
<g id="n106" class="n"><rect x="5084" y="1080.5" width="122" height="68" class="b"/><text x="5145" y="1101.7">gini = 0.0<tspan x="5145" dy="18.8">samples = 1</tspan><tspan x="5145" dy="18.8">value = [0, 1]</tspan></text></g>
<g id="n107" class="n"><rect x="5230" y="1080.5" width="122" height="68" class="b"/><text x="5291" y="1101.7">gini = 0.0<tspan x="5291" dy="18.8">samples = 3</tspan><tspan x="5291" dy="18.8">value = [0, 3]</tspan></text></g>
<g id="n108" class="n"><rect x="5377" y="1080.5" width="122" height="68" class="o"/><text x="5438" y="1101.7">gini = 0.0<tspan x="5438" dy="18.8">samples = 1</tspan><tspan x="5438" dy="18.8">value = [1, 0]</tspan></text></g>
<g id="n109" class="n"><rect x="5523" y="1072" width="350" height="85" fill="#41a1e6"/><text x="5698" y="1092.5">oucontent_clicks_by_days_change &lt;= -85.0<tspan x="5698" dy="18.8">gini = 0.074</tspan><tspan x="5698" dy="18.8">samples = 52</tspan><tspan x="5698" dy="18.8">value = [2, 50]</tspan></text></g>
<g id="n110" class="n"><rect x="5897" y="1072" width="282" height="85" fill="#3a9de5"/><text x="6038" y="1092.5">oucontent_clicks_by_days &lt;= 10.5<tspan x="6038" dy="18.8">gini = 0.008</tspan><tspan x="6038" dy="18.8">samples = 1288</tspan><tspan x="6038" dy="18.8">value = [5, 1283]</tspan></text></g>
<g id="n111" class="n"><rect x="6203" y="1080.5" width="131" height="68" class="b"/><text x="6268.5" y="1101.7">gini = 0.0<tspan x="6268.5" dy="18.8">samples = 37</tspan><tspan x="6268.5" dy="18.8">value = [0, 37]</tspan></text></g>
<g id="n112" class="n"><rect x="6360" y="1072" width="328" height="85" class="w"/><text x="6524" y="1092.5">subpage_clicks_by_days_change &lt;= -1.5<tspan x="6524" dy="18.8">gini = 0.5</tspan><tspan x="6524" dy="18.8">samples = 2</tspan><tspan x="6524" dy="18.8">value = [1, 1]</tspan></text></g>
<g id="n113" class="n"><rect x="6711" y="1072" width="325" height="85" fill="#399de5"/><text x="6873.5" y="1092.5">resource_clicks_by_days_change &lt;= 2.5<tspan x="6873.5" dy="18.8">gini = 0.002</tspan><tspan x="6873.5" dy="18.8">samples = 2791</tspan><tspan x="6873.5" dy="18.8">value = [3, 2788]</tspan></text></g>
<g id="n114" class="n"><rect x="7061" y="1072" width="354" height="85" fill="#3b9ee5"/><text x="7238" y="1092.5">oucontent_clicks_by_days_change &lt;= 151.5<tspan x="7238" dy="18.8">gini = 0.017</tspan><tspan x="7238" dy="18.8">samples = 118</tspan><tspan x="7238" dy="18.8">value = [1, 117]</tspan></text></g>
<g id="n115" class="n"><rect x="727" y="1205" width="122" height="68" class="w"/><text x="788" y="1226.2">gini = 0.5<tspan x="788" dy="18.8">samples = 2</tspan><tspan x="788" dy="18.8">value = [1, 1]</tspan></text></g>
<g id="n116" class="n"><rect x="874" y="1205" width="121" height="68" class="o"/><text x="934.5" y="1226.2">gini = 0.0<tspan x="934.5" dy="18.8">samples = 2</tspan><tspan x="934.5" dy="18.8">value = [2, 0]</tspan></text></g>
<g id="n117" class="n"><rect x="1283" y="1205" width="141" height="68" fill="#6db7ec"/><text x="1353.5" y="1226.2">gini = 0.328<tspan x="1353.5" dy="18.8">samples = 58</tspan><tspan x="1353.5" dy="18.8">value = [12, 46]</tspan></text></g>
<g id="n118" class="n"><rect x="1449" y="1205" width="130" height="68" fill="#43a2e6"/><text x="1514" y="1226.2">gini = 0.095<tspan x="1514" dy="18.8">samples = 40</tspan><tspan x="1514" dy="18.8">value = [2, 38]</tspan></text></g>
<g id="n119" class="n"><rect x="2284" y="1205" width="122" height="68" class="o"/><text x="2345" y="1226.2">gini = 0.0<tspan x="2345" dy="18.8">samples = 1</tspan><tspan x="2345" dy="18.8">value = [1, 0]</tspan></text></g>
<g id="n120" class="n"><rect x="2431" y="1205" width="121" height="68" class="b"/><text x="2491.5" y="1226.2">gini = 0.0<tspan x="2491.5" dy="18.8">samples = 2</tspan><tspan x="2491.5" dy="18.8">value = [0, 2]</tspan></text></g>
<g id="n121" class="n"><rect x="2622" y="1205" width="149" height="68" fill="#43a2e6"/><text x="2696.5" y="1226.2">gini = 0.088<tspan x="2696.5" dy="18.8">samples = 261</tspan><tspan x="2696.5" dy="18.8">value = [12, 249]</tspan></text></g>
<g id="n122" class="n"><rect x="2796" y="1205" width="140" height="68" fill="#3a9ee5"/><text x="2866" y="1226.2">gini = 0.014<tspan x="2866" dy="18.8">samples = 144</tspan><tspan x="2866" dy="18.8">value = [1, 143]</tspan></text></g>
<g id="n123" class="n"><rect x="2984" y="1205" width="130" height="68" fill="#3e9fe6"/><text x="3049" y="1226.2">gini = 0.045<tspan x="3049" dy="18.8">samples = 43</tspan><tspan x="3049" dy="18.8">value = [1, 42]</tspan></text></g>
<g id="n124" class="n"><rect x="3139" y="1205" width="123" height="68" fill="#9ccef2"/><text x="3200.5" y="1226.2">gini = 0.444<tspan x="3200.5" dy="18.8">samples = 3</tspan><tspan x="3200.5" dy="18.8">value = [1, 2]</tspan></text></g>
<g id="n125" class="n"><rect x="3312" y="1205" width="121" height="68" class="o"/><text x="3372.5" y="1226.2">gini = 0.0<tspan x="3372.5" dy="18.8">samples = 1</tspan><tspan x="3372.5" dy="18.8">value = [1, 0]</tspan></text></g>
<g id="n126" class="n"><rect x="3459" y="1205" width="121" height="68" class="b"/><text x="3519.5" y="1226.2">gini = 0.0<tspan x="3519.5" dy="18.8">samples = 1</tspan><tspan x="3519.5" dy="18.8">value = [0, 1]</tspan></text></g>
<g id="n127" class="n"><rect x="3704" y="1205" width="149" height="68" fill="#47a4e7"/><text x="3778.5" y="1226.2">gini = 0.123<tspan x="3778.5" dy="18.8">samples = 273</tspan><tspan x="3778.5" dy="18.8">value = [18, 255]</tspan></text></g>
<g id="n128" class="n"><rect x="3877" y="1205" width="140" height="68" fill="#69b5eb"/><text x="3947" y="1226.2">gini = 0.313<tspan x="3947" dy="18.8">samples = 103</tspan><tspan x="3947" dy="18.8">value = [20, 83]</tspan></text></g>
<g id="n129" class="n"><rect x="4056" y="1205" width="121" height="68" class="w"/><text x="4116.5" y="1226.2">gini = 0.5<tspan x="4116.5" dy="18.8">samples = 2</tspan><tspan x="4116.5" dy="18.8">value = [1, 1]</tspan></text></g>
<g id="n130" class="n"><rect x="4202" y="1205" width="141" height="68" fill="#3e9fe6"/><text x="4272.5" y="1226.2">gini = 0.045<tspan x="4272.5" dy="18.8">samples = 173</tspan><tspan x="4272.5" dy="18.8">value = [4, 169]</tspan></text></g>
<g id="n131" class="n"><rect x="4394" y="1205" width="131" height="68" fill="#3fa0e6"/><text x="4459.5" y="1226.2">gini = 0.059<tspan x="4459.5" dy="18.8">samples = 33</tspan><tspan x="4459.5" dy="18.8">value = [1, 32]</tspan></text></g>
<g id="n132" class="n"><rect x="4549" y="1205" width="122" height="68" fill="#cee6f8"/><text x="4610" y="1226.2">gini = 0.49<tspan x="4610" dy="18.8">samples = 7</tspan><tspan x="4610" dy="18.8">value = [3, 4]</tspan></text></g>
<g id="n133" class="n"><rect x="4702" y="1205" width="150" height="68" fill="#40a1e6"/><text x="4777" y="1226.2">gini = 0.07<tspan x="4777" dy="18.8">samples = 274</tspan><tspan x="4777" dy="18.8">value = [10, 264]</tspan></text></g>
<g id="n134" class="n"><rect x="4876" y="1205" width="140" height="68" fill="#3a9de5"/><text x="4946" y="1226.2">gini = 0.009<tspan x="4946" dy="18.8">samples = 214</tspan><tspan x="4946" dy="18.8">value = [1, 213]</tspan></text></g>
<g id="n135" class="n"><rect x="5494" y="1205" width="130" height="68" class="b"/><text x="5559" y="1226.2">gini = 0.0<tspan x="5559" dy="18.8">samples = 50</tspan><tspan x="5559" dy="18.8">value = [0, 50]</tspan></text></g>
<g id="n136" class="n"><rect x="5649" y="1205" width="121" height="68" class="o"/><text x="5709.5" y="1226.2">gini = 0.0<tspan x="5709.5" dy="18.8">samples = 2</tspan><tspan x="5709.5" dy="18.8">value = [2, 0]</tspan></text></g>
<g id="n137" class="n"><rect x="5891" y="1205" width="129" height="68" fill="#46a4e7"/><text x="5955.5" y="1226.2">gini = 0.117<tspan x="5955.5" dy="18.8">samples = 16</tspan><tspan x="5955.5" dy="18.8">value = [1, 15]</tspan></text></g>
<g id="n138" class="n"><rect x="6046" y="1205" width="149" height="68" fill="#3a9de5"/><text x="6120.5" y="1226.2">gini = 0.006<tspan x="6120.5" dy="18.8">samples = 1272</tspan><tspan x="6120.5" dy="18.8">value = [4, 1268]</tspan></text></g>
<g id="n139" class="n"><rect x="6340" y="1205" width="122" height="68" class="o"/><text x="6401" y="1226.2">gini = 0.0<tspan x="6401" dy="18.8">samples = 1</tspan><tspan x="6401" dy="18.8">value = [1, 0]</tspan></text></g>
<g id="n140" class="n"><rect x="6487" y="1205" width="121" height="68" class="b"/><text x="6547.5" y="1226.2">gini = 0.0<tspan x="6547.5" dy="18.8">samples = 1</tspan><tspan x="6547.5" dy="18.8">value = [0, 1]</tspan></text></g>
<g id="n141" class="n"><rect x="6727" y="1205" width="150" height="68" fill="#399de5"/><text x="6802" y="1226.2">gini = 0.001<tspan x="6802" dy="18.8">samples = 2383</tspan><tspan x="6802" dy="18.8">value = [1, 2382]</tspan></text></g>
<g id="n142" class="n"><rect x="6901" y="1205" width="140" height="68" fill="#3a9de5"/><text x="6971" y="1226.2">gini = 0.01<tspan x="6971" dy="18.8">samples = 408</tspan><tspan x="6971" dy="18.8">value = [2, 406]</tspan></text></g>
<g id="n143" class="n"><rect x="7093" y="1205" width="121" height="68" class="o"/><text x="7153.5" y="1226.2">gini = 0.0<tspan x="7153.5" dy="18.8">samples = 1</tspan><tspan x="7153.5" dy="18.8">value = [1, 0]</tspan></text></g>
<g id="n144" class="n"><rect x="7239" y="1205" width="139" height="68" class="b"/><text x="7308.5" y="1226.2">gini = 0.0<tspan x="7308.5" dy="18.8">samples = 117</tspan><tspan x="7308.5" dy="18.8">value = [0, 117]</tspan></text></g>
</svg>
